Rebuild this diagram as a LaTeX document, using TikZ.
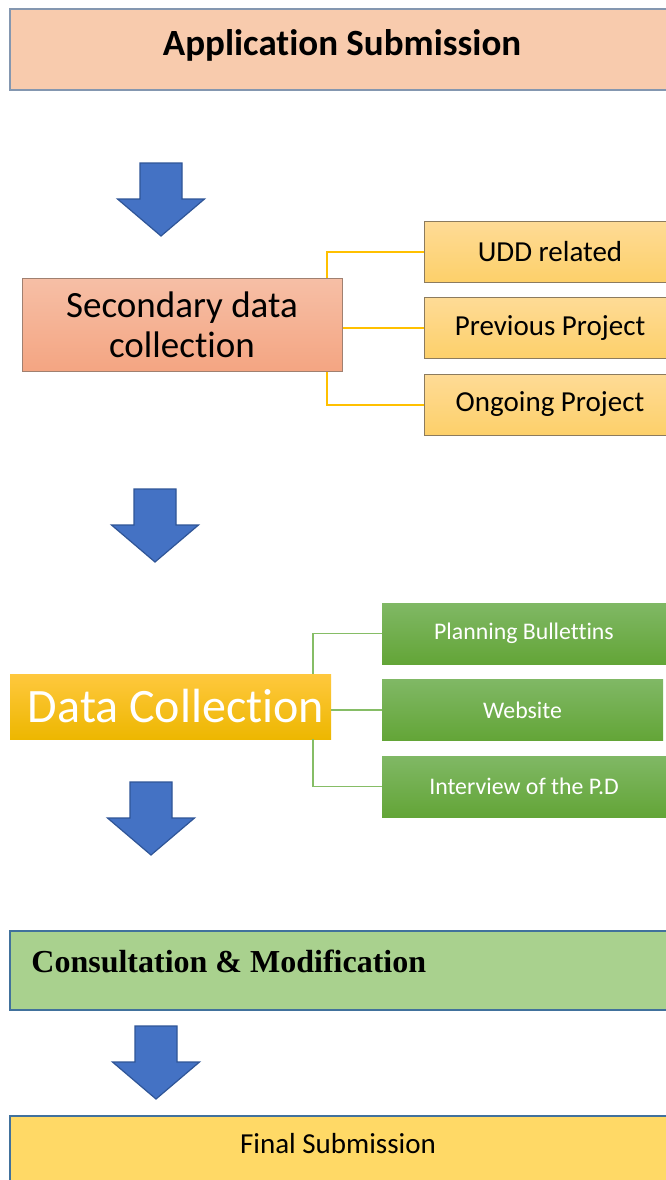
\documentclass[tikz,border=0pt]{standalone}
\usepackage{fontspec}
\setmainfont[Ligatures={NoCommon}]{Carlito}
\newfontfamily\timesfont{Liberation Serif}
\usetikzlibrary{calc}

\definecolor{appfill}{HTML}{F8CBAD}
\definecolor{appline}{HTML}{8497B0}
\definecolor{secTop}{HTML}{F6BFA6}
\definecolor{secBot}{HTML}{F4A582}
\definecolor{secline}{HTML}{A08070}
\definecolor{subTop}{HTML}{FEDB96}
\definecolor{subBot}{HTML}{FDD06A}
\definecolor{subline}{HTML}{8C7B5E}
\definecolor{goldline}{HTML}{FFC000}
\definecolor{dcTop}{HTML}{FFC83E}
\definecolor{dcBot}{HTML}{EDB700}
\definecolor{grTop}{HTML}{80B865}
\definecolor{grBot}{HTML}{63A537}
\definecolor{grline}{HTML}{86BD66}
\definecolor{conFill}{HTML}{A9D18E}
\definecolor{blueline}{HTML}{41719C}
\definecolor{finFill}{HTML}{FFD966}
\definecolor{arrowFill}{HTML}{4472C4}
\definecolor{arrowLine}{HTML}{2F5597}

\tikzset{
  box/.style={rectangle, inner sep=0pt, align=center},
  appbox/.style={box, fill=appfill, draw=appline, line width=1.2pt},
  secbox/.style={box, top color=secTop, bottom color=secBot, draw=secline, line width=1pt},
  subbox/.style={box, top color=subTop, bottom color=subBot, draw=subline, line width=1pt,
                 minimum width=252pt, minimum height=61pt, font=\fontsize{29}{33}\selectfont},
  dcbox/.style={box, top color=dcTop, bottom color=dcBot, text=white},
  grbox/.style={box, top color=grTop, bottom color=grBot, text=white,
                minimum height=61pt, font=\fontsize{23.8}{28}\selectfont},
  conbox/.style={box, fill=conFill, draw=blueline, line width=1.5pt},
  finbox/.style={box, fill=finFill, draw=blueline, line width=1.5pt},
  yline/.style={draw=goldline, line width=2pt},
  gline/.style={draw=grline, line width=1.5pt},
  blockarrow/.style={fill=arrowFill, draw=arrowLine, line width=1.2pt, line join=miter},
}

% block arrow pointing down, tip at the given point
\newcommand{\downarrowat}[2]{%
  \filldraw[blockarrow] (#1-21,#2-73) -- (#1+21,#2-73) -- (#1+21,#2-37) -- (#1+43.5,#2-37)
     -- (#1,#2) -- (#1-43.5,#2-37) -- (#1-21,#2-37) -- cycle;}

\begin{document}
\begin{tikzpicture}[x=1pt,y=-1pt]
\useasboundingbox (0,0) rectangle (666,1180);
\fill[white] (0,0) rectangle (666,1180);
\clip (0,0) rectangle (666,1180);

% first stage
\node[appbox, minimum width=664pt, minimum height=81pt] (app) at (342,49.5) {};
\node[inner sep=0pt, font=\fontsize{37}{42}\selectfont\bfseries] (apptxt) at (342,45)
     {Application Submission};

\downarrowat{161}{236}

% secondary data collection with its three sources
\node[secbox, minimum width=320pt, minimum height=93pt,
      font=\fontsize{37}{40}\selectfont] (sec) at (182,324.5) {Secondary data\\collection};

\node[subbox] (udd)  at (550,251.5) {UDD related};
\node[subbox] (prev) at (550,328)   {Previous Project};
\node[subbox] (ong)  at (550,404.5) {Ongoing Project};

\coordinate (secTopJ) at ($(sec.north east)+(-16,0)$);
\coordinate (secBotJ) at ($(sec.south east)+(-16,0)$);
\draw[yline] (secTopJ) |- (udd.west);
\draw[yline] (sec.east |- prev.west) -- (prev.west);
\draw[yline] (secBotJ) |- (ong.west);

\downarrowat{155}{562}

% data collection with its three sources
\node[dcbox, minimum width=321pt, minimum height=65pt] (dc) at (170.5,706.5) {};
\node[inner sep=0pt, text=white, font=\fontsize{48}{52}\selectfont] (dctxt) at (176,706)
     {Data Collection};

\node[grbox, minimum width=284pt] (plan) at (524,633.5) {Planning Bullettins};
\node[grbox, minimum width=281pt] (web)  at (522.5,710) {Website};
\node[grbox, minimum width=284pt] (intv) at (524,786.5) {Interview of the P.D};

\coordinate (dcTopJ) at ($(dc.north east)+(-18,0)$);
\coordinate (dcBotJ) at ($(dc.south east)+(-18,0)$);
\draw[gline] (dcTopJ) |- (plan.west);
\draw[gline] (dc.east |- web.west) -- (web.west);
\draw[gline] (dcBotJ) |- (intv.west);

\downarrowat{151}{855}

% consultation
\node[conbox, minimum width=664pt, minimum height=79pt] (con) at (342,970.5) {};
\node[anchor=west, inner sep=0pt, font=\timesfont\fontsize{32}{36}\selectfont\bfseries]
     (contxt) at ($(con.west)+(22,-9)$) {Consultation \& Modification};

\downarrowat{156}{1099}

% final submission
\node[finbox, minimum width=664pt, minimum height=90pt] (fin) at (342,1161) {};
\node[inner sep=0pt, font=\fontsize{29}{33}\selectfont] (fintxt) at (338,1144) {Final Submission};

\end{tikzpicture}
\end{document}
